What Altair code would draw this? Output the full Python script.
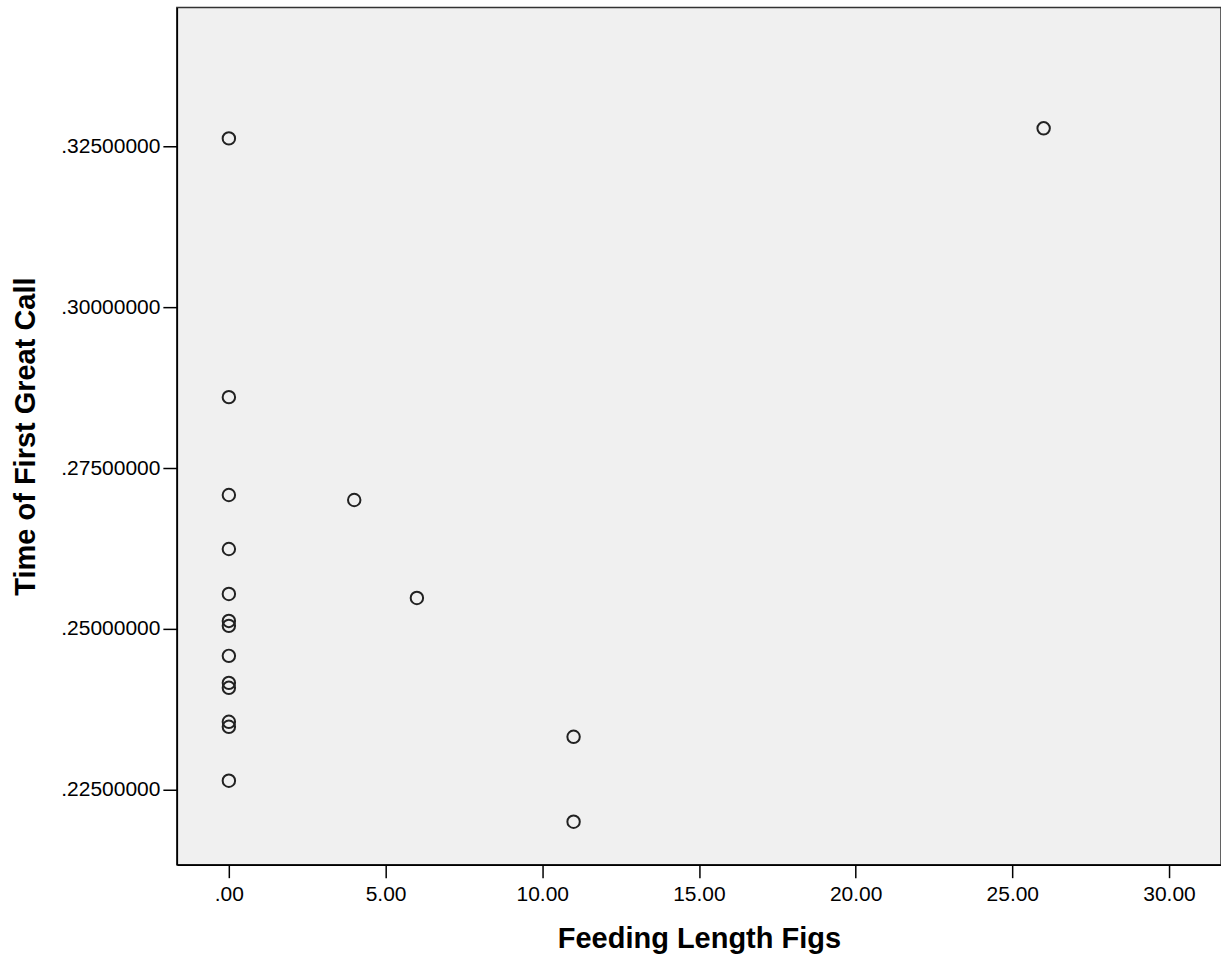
import altair as alt
import pandas as pd

feeding = [0, 0, 0, 0, 0, 0, 0, 0, 0, 0, 0, 0, 0, 4, 6, 11, 11, 26]
first_call = [0.32624, 0.28602, 0.27081, 0.26242, 0.25543, 0.25124, 0.25047,
              0.24581, 0.24161, 0.24084, 0.23556, 0.23478, 0.22640,
              0.27003, 0.25481, 0.23323, 0.22003, 0.32780]

x_ticks = [0, 5, 10, 15, 20, 25, 30]
y_ticks = [0.225, 0.25, 0.275, 0.30, 0.325]

df = pd.DataFrame({"Feeding Length Figs": feeding, "Time of First Great Call": first_call})

chart = alt.Chart(df).mark_point(
    shape="circle", filled=False, size=155, stroke="#222222", strokeWidth=2, opacity=1
).encode(
    x=alt.X("Feeding Length Figs:Q",
            scale=alt.Scale(domain=[-1.66, 31.66], nice=False, zero=False),
            axis=alt.Axis(values=x_ticks, title="Feeding Length Figs",
                          labelExpr="datum.value == 0 ? '.00' : format(datum.value, '.2f')",
                          tickSize=13, labelPadding=6, titlePadding=20)),
    y=alt.Y("Time of First Great Call:Q",
            scale=alt.Scale(domain=[0.21335, 0.3466], nice=False, zero=False),
            axis=alt.Axis(values=y_ticks, title="Time of First Great Call",
                          labelExpr="substring(format(datum.value, '.8f'), 1)",
                          tickSize=14, labelPadding=3, titlePadding=20)),
).properties(
    width=1045, height=858,
    autosize=alt.AutoSizeParams(type="none"),
    padding={"left": 177, "top": 7, "right": 0, "bottom": 95},
    background="white",
).configure_view(
    fill="#f0f0f0", stroke="#333333", strokeWidth=1.5
).configure_axis(
    grid=False, domainColor="black", domainWidth=1.5, tickColor="black", tickWidth=1.5,
    labelColor="black", labelFont="Liberation Sans", labelFontSize=21,
    titleColor="black", titleFont="Liberation Sans", titleFontSize=29, titleFontWeight="bold",
)

chart.save("out.html", embed_options={"renderer": "svg", "actions": False})
